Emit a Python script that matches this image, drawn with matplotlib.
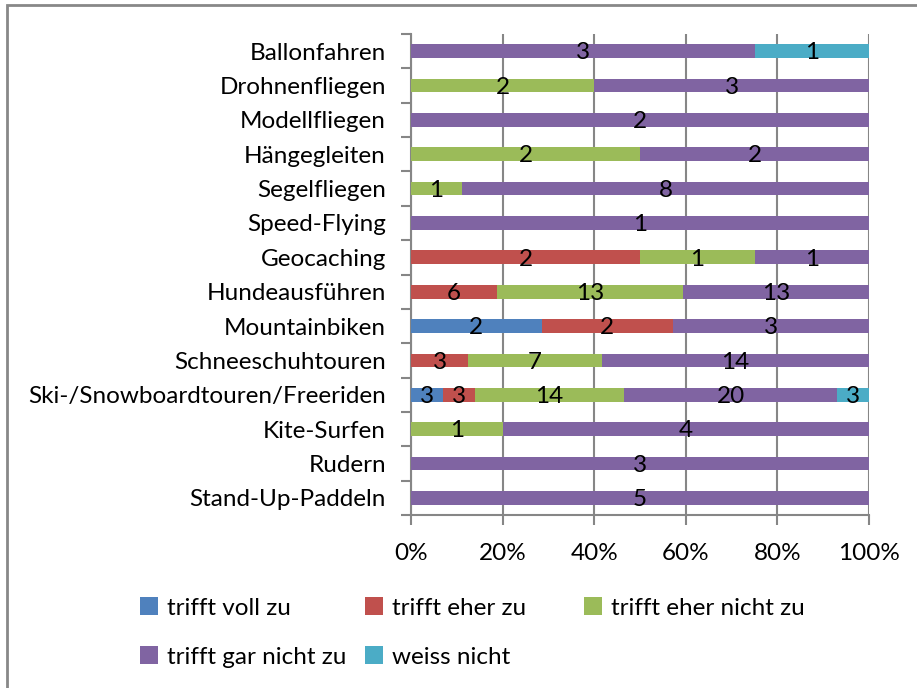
import numpy as np
import matplotlib.pyplot as plt
from matplotlib.patches import Rectangle, Patch

categories = ["Ballonfahren", "Drohnenfliegen", "Modellfliegen", "Hängegleiten",
              "Segelfliegen", "Speed-Flying", "Geocaching", "Hundeausführen",
              "Mountainbiken", "Schneeschuhtouren", "Ski-/Snowboardtouren/Freeriden",
              "Kite-Surfen", "Rudern", "Stand-Up-Paddeln"]
voll      = [0, 0, 0, 0, 0, 0, 0, 0, 2, 0, 3, 0, 0, 0]
eher      = [0, 0, 0, 0, 0, 0, 2, 6, 2, 3, 3, 0, 0, 0]
eher_nich = [0, 2, 0, 2, 1, 0, 1, 13, 0, 7, 14, 1, 0, 0]
gar_nicht = [3, 3, 2, 2, 8, 1, 1, 13, 3, 14, 20, 4, 3, 5]
weiss     = [1, 0, 0, 0, 0, 0, 0, 0, 0, 0, 3, 0, 0, 0]
series_names = ["trifft voll zu", "trifft eher zu", "trifft eher nicht zu",
                "trifft gar nicht zu", "weiss nicht"]
colors = ["#4F81BD", "#C0504D", "#9BBB59", "#8064A2", "#4BACC6"]
xticks = [0, 20, 40, 60, 80, 100]

plt.rcParams['font.family'] = ['Lato', 'DejaVu Sans']
fs = 17.5

W, H = 917, 688
fig = plt.figure(figsize=(W / 100, H / 100), dpi=100)
ax = fig.add_axes([411 / W, 1 - 515 / H, (869 - 411) / W, (515 - 34) / H])

data = np.array([voll, eher, eher_nich, gar_nicht, weiss], dtype=float)
totals = data.sum(axis=0)
pct = data / totals * 100
y = np.arange(len(categories))
left = np.zeros(len(categories))
handles = []
for i in range(len(series_names)):
    bars = ax.barh(y, pct[i], left=left, height=0.4, color=colors[i],
                   edgecolor='none', zorder=3)
    for j, b in enumerate(bars):
        if data[i, j] > 0:
            ax.text(left[j] + pct[i, j] / 2, y[j] + 0.05, str(int(data[i, j])),
                    ha='center', va='center', fontsize=fs, color='black', zorder=4)
    left += pct[i]
    handles.append(Patch(facecolor=colors[i], label=series_names[i]))

ax.set_ylim(len(categories) - 0.5, -0.5)
ax.set_xlim(0, 100)
ax.set_yticks(y)
ax.set_yticklabels(categories, fontsize=fs)
ax.set_yticks(np.arange(-0.5, len(categories)), minor=True)
ax.tick_params(axis='y', which='major', length=0, pad=18)
ax.tick_params(axis='y', which='minor', length=7, color='#868686', width=1.5)
ax.set_xticks(xticks)
ax.set_xticklabels([f"{t}%" for t in xticks], fontsize=fs)
ax.tick_params(axis='x', length=7, color='#868686', width=1.5, pad=13)
ax.grid(axis='x', color='#868686', linewidth=1.5, zorder=0)
for s in ['top', 'right']:
    ax.spines[s].set_visible(False)
for s in ['left', 'bottom']:
    ax.spines[s].set_color('#868686')
    ax.spines[s].set_linewidth(1.5)

# legend, Excel-style row-major layout in three columns
cols = [([0, 3], 128), ([1, 4], 353), ([2], 572)]
for idx, x0 in cols:
    leg = fig.legend(handles=[handles[k] for k in idx], loc='upper left',
                     bbox_to_anchor=(x0 / W, 1 - 585 / H), frameon=False,
                     fontsize=fs, handlelength=0.75, handleheight=0.75,
                     handletextpad=0.35, labelspacing=1.15, borderpad=0)

fig.patches.append(Rectangle((7 / W, -0.1), 1.2, 1 - 5 / H + 0.1,
                             transform=fig.transFigure, fill=False,
                             edgecolor='#888888', linewidth=2))
fig.savefig("out.png", dpi=100)
